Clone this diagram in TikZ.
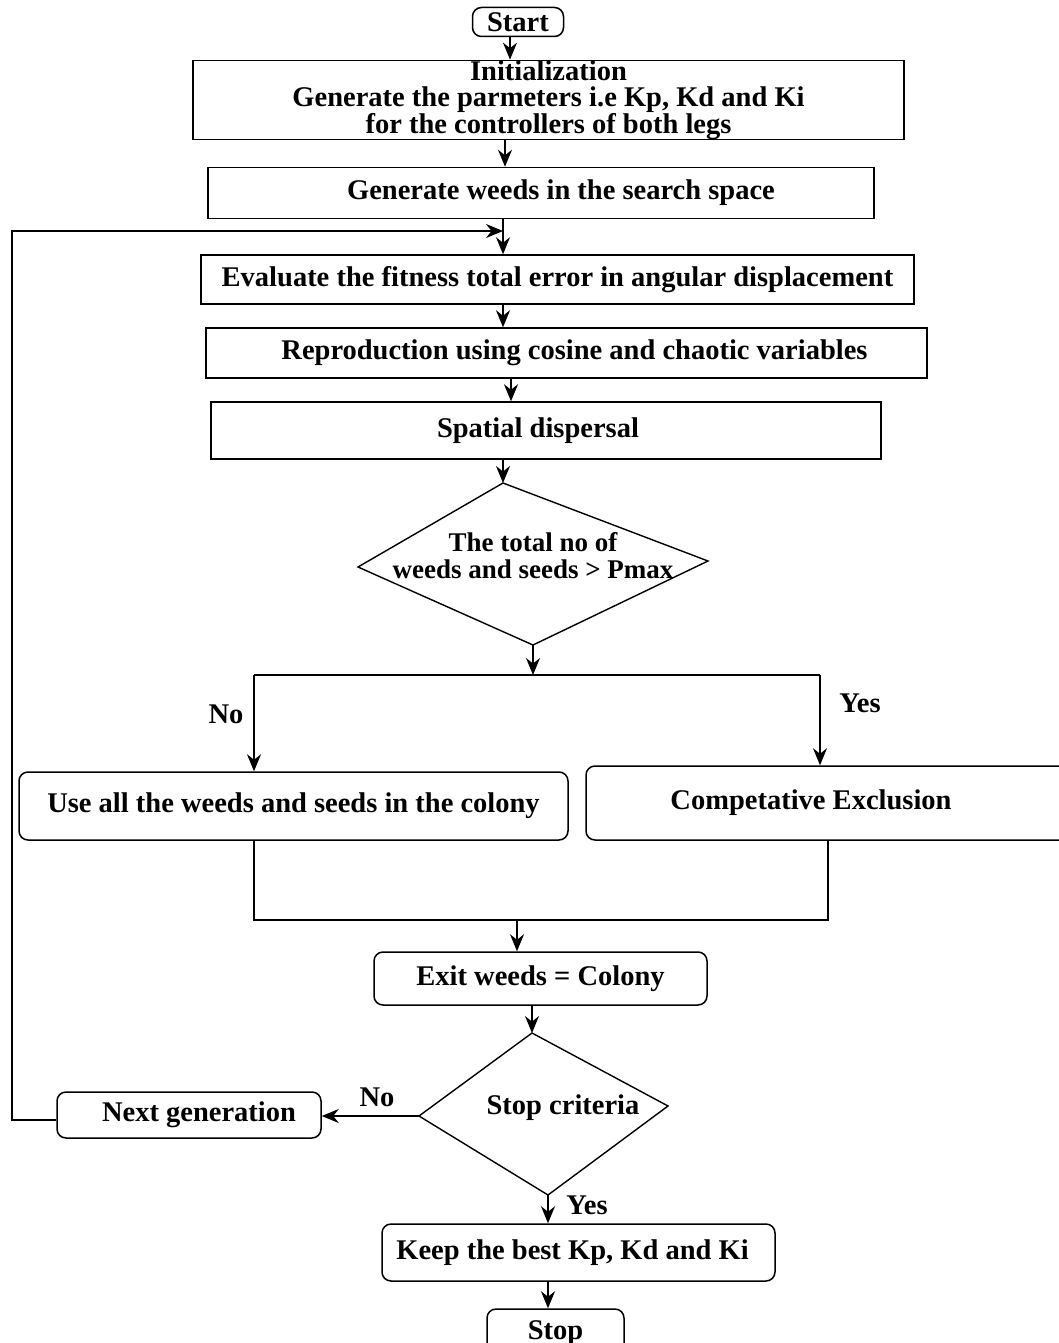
\documentclass[tikz,border=0pt]{standalone}
\usepackage{fontspec}
\setmainfont{Liberation Serif}
\usetikzlibrary{arrows.meta}

\tikzset{
  txt/.style={font=\bfseries\fontsize{28.5}{26}\selectfont, align=center},
  box/.style={draw, line width=1.5pt, inner sep=0pt, txt},
  rbox/.style={box, rounded corners=9pt},
  wire/.style={line width=1.4pt},
  arr/.style={wire, -{Stealth[length=17pt,width=14pt]}}
}

\begin{document}
\begin{tikzpicture}[x=1pt,y=-1pt]
  \clip (0,0) rectangle (1059,1343);
  \fill[white] (0,0) rectangle (1059,1343);

  % boxes
  \node[rbox, minimum width=91pt, minimum height=29pt] (start) at (518,22) {Start};
  \node[box, minimum width=711pt, minimum height=77pt] (init) at (548.5,100)
    {Initialization\\ Generate the parmeters i.e Kp, Kd and Ki\\ for the controllers of both legs};
  \node[box, minimum width=666pt, minimum height=51pt] (gen) at (541,193) {\hspace*{40pt}Generate weeds in the search space};
  \node[box, minimum width=713pt, minimum height=49pt] (eval) at (557.5,279.5) {Evaluate the fitness total error in angular displacement};
  \node[box, minimum width=721pt, minimum height=50pt] (repro) at (566.5,353) {\hspace*{16pt}Reproduction using cosine and chaotic variables};
  \node[box, minimum width=670pt, minimum height=57pt] (spatial) at (546,430.5) {Spatial dispersal\hspace*{16pt}};

  % first decision
  \coordinate (d1t) at (503,483);
  \coordinate (d1r) at (708,561);
  \coordinate (d1b) at (533,645);
  \coordinate (d1l) at (358,567);
  \draw[wire] (d1t) -- (d1r) -- (d1b) -- (d1l) -- cycle;
  \node[txt, font=\bfseries\fontsize{27}{27}\selectfont] (d1) at (533,556) {The total no of\\weeds and seeds > Pmax};

  \node[rbox, minimum width=549pt, minimum height=68pt] (use) at (293.5,806) {Use all the weeds and seeds in the colony};
  \node[rbox, minimum width=484pt, minimum height=74pt] (comp) at (828,803) {Competative Exclusion\hspace*{34pt}};
  \node[rbox, minimum width=333pt, minimum height=53pt] (exit) at (540.5,978.5) {Exit weeds = Colony};

  % second decision
  \coordinate (d2t) at (532,1033);
  \coordinate (d2r) at (668,1106);
  \coordinate (d2b) at (548,1195);
  \coordinate (d2l) at (419,1116);
  \draw[wire] (d2t) -- (d2r) -- (d2b) -- (d2l) -- cycle;
  \node[txt] (d2) at (563,1108) {Stop criteria};

  \node[rbox, minimum width=264pt, minimum height=46pt] (next) at (189,1115) {\hspace*{20pt}Next generation};
  \node[rbox, minimum width=393pt, minimum height=57pt] (keep) at (578.5,1252.5) {Keep the best Kp, Kd and Ki\hspace*{12pt}};
  \node[rbox, minimum width=137pt, minimum height=51pt, text depth=0pt] (stop) at (555.5,1334.5) {\raisebox{9pt}{Stop}};

  % connector positions
  \coordinate (c510) at (510,0);
  \coordinate (c505) at (505,0);
  \coordinate (c503) at (503,0);
  \coordinate (c511) at (511,0);
  \coordinate (loopin) at (503,231);
  \coordinate (split) at (533,675);
  \coordinate (nol) at (254,675);
  \coordinate (yesr) at (820,675);
  \coordinate (ml) at (254,920);
  \coordinate (mr) at (828,920);
  \coordinate (mid) at (517,920);
  \coordinate (back) at (12,1120);
  \coordinate (c548) at (548,0);

  % arrows
  \draw[arr] (c510 |- start.south) -- (c510 |- init.north);
  \draw[arr] (c505 |- init.south) -- (c505 |- gen.north);
  \draw[arr] (c503 |- gen.south) -- (c503 |- eval.north);
  \draw[arr] (c503 |- eval.south) -- (c503 |- repro.north);
  \draw[arr] (c511 |- repro.south) -- (c511 |- spatial.north);
  \draw[arr] (c503 |- spatial.south) -- (d1t);
  \draw[arr] (d1b) -- (split);
  \draw[wire] (nol) -- (yesr);
  \draw[arr] (nol) -- (nol |- use.north);
  \draw[arr] (yesr) -- (yesr |- comp.north);
  \node[txt] (no1) at (226,714) {No};
  \node[txt] (yes1) at (860,703) {Yes};
  \draw[wire] (ml |- use.south) -- (ml) -- (mr) -- (mr |- comp.south);
  \draw[arr] (mid) -- (mid |- exit.north);
  \draw[arr] (d2t |- exit.south) -- (d2t);
  \draw[arr] (d2l) -- (d2l -| next.east);
  \node[txt] (no2) at (377,1097) {No};
  \draw[arr] (back -| next.west) -- (back) |- (loopin);
  \draw[arr] (d2b) -- (c548 |- keep.north);
  \node[txt] (yes2) at (587,1205) {Yes};
  \draw[arr] (c548 |- keep.south) -- (c548 |- stop.north);
\end{tikzpicture}
\end{document}
